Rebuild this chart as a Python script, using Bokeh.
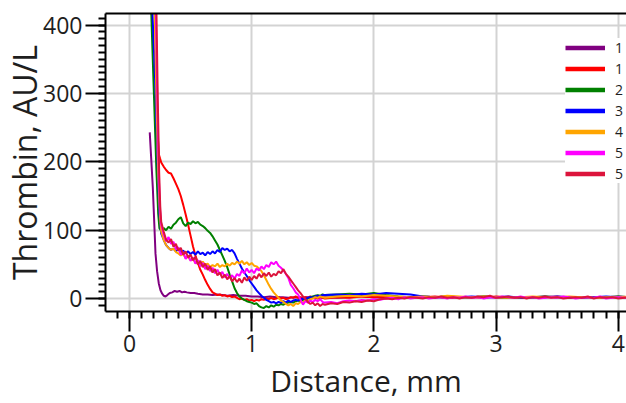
from bokeh.plotting import figure
from bokeh.models import (Range1d, SingleIntervalTicker, FixedTicker, LinearAxis,
                          Legend, LegendItem)
from bokeh.embed import file_html
from bokeh.resources import INLINE

# ---------------- data ----------------
LABELS = ["1", "1", "2", "3", "4", "5", "5"]
COLORS = ["#800080", "#ff0000", "#008000", "#0000ff", "#ffa500", "#ff00ff", "#dc143c"]
X_TITLE = "Distance, mm"
Y_TITLE = "Thrombin, AU/L"

X_TICKS_INTERVAL = 1
Y_TICKS_INTERVAL = 100

# shared mid-section grid (mm)
MID_X = [0.26, 0.28, 0.30, 0.32, 0.34, 0.36, 0.38, 0.40, 0.42, 0.44,
         0.46, 0.48, 0.50, 0.52, 0.54, 0.56, 0.58, 0.60, 0.62, 0.64,
         0.66, 0.68, 0.70, 0.72, 0.74, 0.76, 0.78, 0.80, 0.82, 0.84,
         0.86, 0.88, 0.90, 0.92, 0.94, 0.96, 0.98, 1.00, 1.02, 1.04,
         1.06, 1.08, 1.10, 1.12, 1.14, 1.16, 1.18, 1.20, 1.22, 1.24,
         1.26, 1.28, 1.30, 1.32, 1.34, 1.36, 1.38, 1.40, 1.42, 1.44,
         1.46, 1.48, 1.50, 1.52, 1.54, 1.56, 1.58]
TAIL_X10 = [1.6, 1.7, 1.8, 1.9, 2.0, 2.1, 2.2, 2.3, 2.4, 2.5, 2.6, 2.7, 2.8,
            2.9, 3.0, 3.1, 3.2, 3.3, 3.4, 3.5, 3.6, 3.7, 3.8, 3.9, 4.0, 4.1]
TAIL_X05 = [1.60, 1.65, 1.70, 1.75, 1.80, 1.85, 1.90, 1.95, 2.00, 2.05,
            2.10, 2.15, 2.20, 2.25, 2.30, 2.35, 2.40, 2.45, 2.50, 2.55,
            2.60, 2.65, 2.70, 2.75, 2.80, 2.85, 2.90, 2.95, 3.00, 3.05,
            3.10, 3.15, 3.20, 3.25, 3.30, 3.35, 3.40, 3.45, 3.50, 3.55,
            3.60, 3.65, 3.70, 3.75, 3.80, 3.85, 3.90, 3.95, 4.00, 4.05,
            4.10]

# series 1 (purple)
S1_X = [0.166, 0.178, 0.191, 0.202, 0.213, 0.226, 0.240, 0.254, 0.268, 0.281,
        0.295, 0.31, 0.33, 0.35, 0.37, 0.39, 0.41, 0.43, 0.45, 0.47,
        0.50, 0.53, 0.56, 0.60, 0.64, 0.68, 0.72, 0.76, 0.80, 0.85,
        0.90, 0.95, 1.0, 1.05, 1.10, 1.15, 1.20, 1.25, 1.30, 1.35,
        1.40, 1.45, 1.50]
S1_Y = [243, 205, 163, 115, 66, 40, 22, 12, 7, 4,
        3, 5, 8, 9, 11, 10, 11, 9, 10, 9,
        8, 8, 7, 6, 6, 5, 6, 5, 4, 5,
        4, 4, 3, 3, 2, 3, 2, 2, 1, 2,
        1, 2, 1]
S1_TAIL = [2, 1, 2, 3, 2, 1, 2, 2, 3, 2, 1, 2, 2, 3, 2, 2, 1, 2, 3, 2, 2, 1, 2, 2, 3, 2]

# series 2 (red)
S2_START_X = [0.205, 0.22, 0.232, 0.242, 0.25]
S2_START_Y = [520, 330, 235, 210, 205]
S2_MID = [199, 193, 188, 184, 183, 176, 168, 160, 150, 137,
          123, 108, 92, 76, 63, 52, 42, 35, 27, 20,
          14, 9, 7, 5, 6, 4, 5, 3, 4, 2,
          3, 1, -1, 0, -2, -1, -3, -2, -4, -2,
          -3, -1, -2, 0, -1, 1, -1, 0, 2, 0,
          1, -1, 0, 2, 1, 3, 1, 2, 0, 2,
          1, 3, 1, 2, 0, 2, 1]
S2_TAIL = [0, 2, 1, 3, 2, 3, 2, 1, 2, 3, 1, 2, 2, 1, 3, 2, 1, 2, 2, 3, 1, 2, 2, 1, 2, 2]

# series 3 (green)
S3_START_X = [0.178, 0.20, 0.22, 0.235, 0.245]
S3_START_Y = [420, 300, 190, 125, 103]
S3_MID = [99, 103, 100, 105, 102, 108, 111, 116, 119, 110,
          106, 111, 109, 113, 110, 112, 108, 106, 103, 99,
          96, 91, 85, 79, 71, 63, 55, 46, 35, 25,
          15, 8, 3, 0, -2, -4, -5, -6, -8, -7,
          -11, -13, -14, -11, -13, -10, -12, -9, -10, -8,
          -9, -7, -6, -5, -6, -4, -3, -4, -2, -1,
          0, 2, 3, 4, 5, 4, 6]
S3_TAIL = [5, 6, 7, 6, 8, 5, 3, 2, 3, 2, 3, 2, 2, 3, 2, 1, 2, 2, 3, 2, 2, 1, 2, 2, 3, 2]

# series 4 (blue)
S4_START_X = [0.188, 0.21, 0.23, 0.245]
S4_START_Y = [420, 320, 200, 125]
S4_MID = [95, 86, 78, 74, 71, 73, 69, 72, 68, 70,
          66, 69, 65, 68, 64, 69, 65, 67, 63, 68,
          65, 69, 66, 71, 68, 74, 71, 73, 69, 71,
          66, 58, 51, 44, 38, 33, 27, 22, 17, 12,
          8, 4, 1, -2, -4, -6, -5, -7, -5, -6,
          -4, -6, -3, -5, -3, -2, -3, -1, 0, -1,
          1, 2, 1, 3, 4, 3, 5]
S4_TAIL = [5, 6, 5, 7, 6, 8, 7, 6, 3, 2, 3, 2, 3, 2, 2, 3, 1, 2, 2, 3, 2, 1, 2, 3, 2, 2]

# series 5 (orange)
S5_START_X = [0.205, 0.22, 0.235, 0.25]
S5_START_Y = [430, 300, 185, 120]
S5_MID = [98, 86, 78, 74, 71, 73, 68, 66, 63, 65,
          59, 61, 56, 58, 52, 55, 50, 54, 49, 51,
          46, 49, 47, 51, 46, 49, 47, 51, 48, 52,
          50, 54, 51, 55, 50, 53, 49, 52, 48, 47,
          44, 40, 34, 27, 20, 14, 9, 5, 1, -3,
          -5, -8, -10, -8, -11, -7, -8, -5, -6, -3,
          -4, -1, 0, 2, 1, 3, 2]
S5_TAIL = [1, 3, 4, 3, 5, 4, 3, 2, 3, 2, 4, 3, 2, 3, 2, 1, 2, 3, 2, 2, 3, 2, 1, 2, 2, 3]

# series 6 (magenta)
S6_START_X = [0.215, 0.228, 0.24, 0.25]
S6_START_Y = [430, 290, 180, 130]
S6_MID = [108, 94, 84, 90, 80, 83, 72, 75, 64, 68,
          58, 63, 55, 60, 51, 56, 47, 52, 43, 48,
          40, 45, 37, 42, 35, 39, 31, 36, 30, 34,
          29, 36, 33, 41, 37, 44, 38, 42, 37, 44,
          41, 47, 43, 49, 46, 53, 50, 54, 48, 45,
          41, 36, 30, 20, 15, 9, 6, -2, -9, -4,
          -6, -3, -5, -2, -4, -1, -5]
S6_TAIL = [-6, -5, -7, -4, -3, -4, -2, -3, -1, -2,
           0, 1, -1, 2, 0, 1, 2, 0, 1, 2,
           0, 2, 1, 3, 1, 2, 0, 2, 1, 3,
           2, 1, 3, 1, 2, 0, 1, 2, 1, 3,
           2, 0, 1, 2, 1, 3, 0, 1, 2, 1,
           2]

# series 7 (crimson)
S7_START_X = [0.22, 0.232, 0.243, 0.252]
S7_START_Y = [430, 290, 185, 135]
S7_MID = [112, 98, 86, 82, 87, 76, 80, 70, 74, 64,
          69, 60, 64, 56, 61, 50, 55, 46, 51, 42,
          47, 38, 43, 34, 38, 30, 35, 28, 33, 25,
          30, 24, 29, 23, 31, 26, 32, 27, 33, 29,
          36, 31, 37, 33, 38, 32, 36, 34, 40, 37,
          43, 36, 32, 27, 22, 17, 12, 8, 3, -1,
          -5, -8, -6, -10, -7, -11, -8]
S7_TAIL = [-9, -7, -8, -5, -6, -4, -5, -3, -4, -1,
           0, -1, 1, 0, 2, 1, 0, 2, 1, 3,
           1, 2, 0, 2, 1, 3, 2, 4, 1, 2,
           3, 1, 2, 0, 2, 1, 3, 1, 2, 0,
           1, 2, 1, 3, 0, 2, 1, 2, 0, 1,
           2]

SERIES = [
    (S1_X + TAIL_X10, S1_Y + S1_TAIL),
    (S2_START_X + MID_X + TAIL_X10, S2_START_Y + S2_MID + S2_TAIL),
    (S3_START_X + MID_X + TAIL_X10, S3_START_Y + S3_MID + S3_TAIL),
    (S4_START_X + MID_X + TAIL_X10, S4_START_Y + S4_MID + S4_TAIL),
    (S5_START_X + MID_X + TAIL_X10, S5_START_Y + S5_MID + S5_TAIL),
    (S6_START_X + MID_X + TAIL_X05, S6_START_Y + S6_MID + S6_TAIL),
    (S7_START_X + MID_X + TAIL_X05, S7_START_Y + S7_MID + S7_TAIL),
]

# ---------------- figure ----------------
FONT = "Open Sans"
TEXT = "#1e1e1e"

p = figure(width=626, height=403, output_backend="svg", toolbar_location=None,
           x_range=Range1d(-0.196, 4.067), y_range=Range1d(-19, 417),
           min_border_left=105, min_border_right=0, min_border_top=13,
           min_border_bottom=92, x_axis_label=X_TITLE, y_axis_label=Y_TITLE)
p.outline_line_color = None
p.background_fill_color = "white"
p.border_fill_color = "white"

p.xaxis.ticker = SingleIntervalTicker(interval=X_TICKS_INTERVAL, num_minor_ticks=10)
p.yaxis.ticker = SingleIntervalTicker(interval=Y_TICKS_INTERVAL, num_minor_ticks=10)

for ax in (p.xaxis[0], p.yaxis[0]):
    ax.axis_line_color = "black"
    ax.axis_line_width = 2
    ax.major_tick_line_color = "black"
    ax.major_tick_line_width = 2
    ax.major_tick_out = 20
    ax.major_tick_in = 0
    ax.minor_tick_line_color = "black"
    ax.minor_tick_line_width = 2
    ax.minor_tick_out = 7
    ax.minor_tick_in = 0
    ax.major_label_text_font = FONT
    ax.major_label_text_font_size = "23px"
    ax.major_label_text_color = TEXT
    ax.major_label_standoff = 3
    ax.axis_label_text_font = FONT
    ax.axis_label_text_font_style = "normal"
    ax.axis_label_text_color = TEXT
    ax.axis_label_text_line_height = 0.8

p.xaxis.axis_label_standoff = 5
p.yaxis.axis_label_standoff = -6
p.xaxis.axis_label_text_font_size = "30px"
p.yaxis.axis_label_text_font_size = "32px"

top = LinearAxis(ticker=FixedTicker(ticks=[]), axis_line_color="black", axis_line_width=2,
                 major_tick_out=0, major_tick_in=0, minor_tick_out=0, minor_tick_in=0,
                 major_label_text_font_size="0px", major_label_standoff=0)
p.add_layout(top, "above")

p.xgrid.grid_line_color = "#d3d3d3"
p.ygrid.grid_line_color = "#d3d3d3"
p.xgrid.grid_line_width = 2
p.ygrid.grid_line_width = 2

for (xs, ys), c in zip(SERIES, COLORS):
    p.line(xs, ys, line_color=c, line_width=2)

items = []
for lab, c in zip(LABELS, COLORS):
    r = p.line([float("nan")], [float("nan")], line_color=c, line_width=4.5)
    items.append(LegendItem(label=lab, renderers=[r]))

legend = Legend(items=items, location=(460, 128), glyph_width=40, glyph_height=19,
                label_height=19, spacing=2, padding=5, label_standoff=10,
                label_text_font=FONT, label_text_font_size="14px",
                label_text_color=TEXT, background_fill_color="white",
                background_fill_alpha=1.0, border_line_color=None, margin=0)
p.add_layout(legend)

open("out.html", "w").write(file_html(p, INLINE))
